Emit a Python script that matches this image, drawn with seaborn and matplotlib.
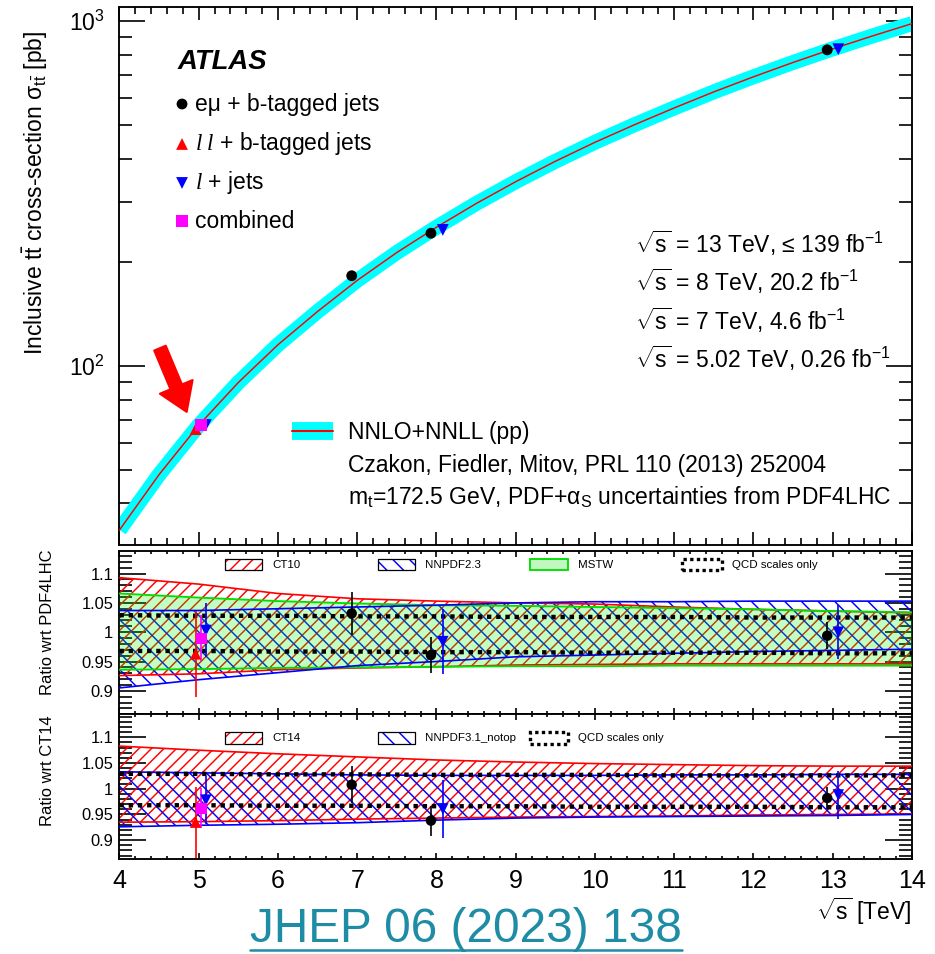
import numpy as np
import pandas as pd
import matplotlib
matplotlib.use("Agg")
import matplotlib.pyplot as plt
import seaborn as sns
from matplotlib.patches import Rectangle
from matplotlib.lines import Line2D
from matplotlib.ticker import MultipleLocator, FixedLocator, NullFormatter, FuncFormatter

# ---------------- data ----------------
theory_sqrt_s = [4.0, 4.5, 5.0, 5.5, 6.0, 6.5, 7.0, 7.5, 8.0, 8.5, 9.0, 9.5, 10.0,
                 10.5, 11.0, 11.5, 12.0, 12.5, 13.0, 13.5, 14.0]
theory_xsec = [33.5, 48.5, 67.4, 89.7, 115.4, 144.1, 177.3, 213.6, 252.9, 296.1, 342.7,
               392.7, 445.8, 501.4, 560.7, 624.3, 690.3, 759.8, 831.8, 906.5, 984.5]

emu_sqrt_s = [6.93, 7.93, 12.93]
emu_xsec = [182.9, 242.9, 826.4]
ll_sqrt_s = [4.96]
ll_xsec = [65.7]
ljets_sqrt_s = [5.09, 8.08, 13.07]
ljets_xsec = [67.5, 248.3, 830.0]
comb_sqrt_s = [5.03]
comb_xsec = [67.5]

# ratio wrt PDF4LHC
emu_r1 = [1.032, 0.961, 0.994]
emu_r1_err = [0.037, 0.031, 0.023]
ll_r1 = [0.963]
ll_r1_err = [0.073]
ljets_r1 = [1.003, 0.984, 1.000]
ljets_r1_err = [0.046, 0.055, 0.046]
comb_r1 = [0.990]
comb_r1_err = [0.039]

# ratio wrt CT14
emu_r2 = [1.008, 0.938, 0.982]
emu_r2_err = [0.036, 0.029, 0.021]
ll_r2 = [0.935]
ll_r2_err = [0.069]
ljets_r2 = [0.978, 0.961, 0.988]
ljets_r2_err = [0.046, 0.056, 0.046]
comb_r2 = [0.962]
comb_r2_err = [0.039]

band_sqrt_s = [4, 5, 6, 7, 8, 9, 10, 11, 12, 13, 14]
ct10_up = [1.093, 1.082, 1.066, 1.057, 1.053, 1.050, 1.048, 1.043, 1.039, 1.036, 1.033]
ct10_dn = [0.926, 0.929, 0.936, 0.939, 0.941, 0.944, 0.945, 0.946, 0.946, 0.946, 0.946]
mstw_up = [1.066, 1.059, 1.053, 1.049, 1.046, 1.045, 1.043, 1.041, 1.039, 1.036, 1.034]
mstw_dn = [0.936, 0.937, 0.939, 0.940, 0.941, 0.942, 0.942, 0.943, 0.943, 0.943, 0.943]
nnpdf23_up = [1.037, 1.037, 1.040, 1.043, 1.046, 1.050, 1.052, 1.052, 1.053, 1.053, 1.053]
nnpdf23_dn = [0.905, 0.919, 0.931, 0.943, 0.950, 0.958, 0.961, 0.964, 0.967, 0.969, 0.971]
qcd1_up = [1.029, 1.028, 1.028, 1.027, 1.027, 1.026, 1.026, 1.026, 1.025, 1.025, 1.025]
qcd1_dn = [0.968, 0.968, 0.967, 0.967, 0.966, 0.966, 0.965, 0.965, 0.965, 0.964, 0.964]

ct14_up = [1.083, 1.075, 1.068, 1.062, 1.056, 1.052, 1.049, 1.047, 1.045, 1.044, 1.044]
ct14_dn = [0.935, 0.936, 0.938, 0.941, 0.943, 0.945, 0.946, 0.947, 0.949, 0.950, 0.951]
nnpdf31_up = [1.033, 1.031, 1.029, 1.027, 1.026, 1.026, 1.026, 1.027, 1.027, 1.028, 1.028]
nnpdf31_dn = [0.926, 0.929, 0.931, 0.934, 0.939, 0.943, 0.945, 0.946, 0.947, 0.948, 0.950]
qcd2_up = [1.029, 1.029, 1.028, 1.028, 1.027, 1.027, 1.027, 1.026, 1.026, 1.026, 1.026]
qcd2_dn = [0.968, 0.968, 0.967, 0.967, 0.966, 0.966, 0.965, 0.965, 0.965, 0.964, 0.964]

# ---------------- style ----------------
sns.set_theme(style="ticks")
plt.rcParams["font.family"] = ["Liberation Sans", "DejaVu Sans"]
plt.rcParams.update({
    "mathtext.fontset": "custom",
    "mathtext.rm": "Liberation Sans",
    "mathtext.it": "Liberation Sans:italic",
    "mathtext.bf": "Liberation Sans:bold",
    "mathtext.sf": "Liberation Serif:italic",
    "mathtext.default": "regular",
    "axes.edgecolor": "black",
    "axes.linewidth": 0.9,
    "xtick.color": "black",
    "ytick.color": "black",
    "text.color": "black",
    "hatch.linewidth": 0.7,
    "axes.facecolor": "white",
    "figure.facecolor": "white",
})

RED_HATCH = "////"
BLUE_HATCH = "\\\\\\"

W, H, DPI = 935, 954, 150
fig = plt.figure(figsize=(W / DPI, H / DPI), dpi=DPI)
L, Wd = 0.1278, 0.8476
ax_top = fig.add_axes([L, 0.42872, Wd, 0.56394])
ax_mid = fig.add_axes([L, 0.25189, Wd, 0.17086])
ax_bot = fig.add_axes([L, 0.09990, Wd, 0.15199])

RED, BLUE, MAG, CYAN = "#ff0000", "#0000ff", "#ff00ff", "#00ffff"

# ---------------- top panel ----------------
th = pd.DataFrame({"sqrt_s": theory_sqrt_s, "xsec": theory_xsec})
sns.lineplot(data=th, x="sqrt_s", y="xsec", ax=ax_top, color=CYAN, linewidth=7.2,
             solid_capstyle="butt", solid_joinstyle="round", zorder=2, legend=False)
sns.lineplot(data=th, x="sqrt_s", y="xsec", ax=ax_top, color=RED, linewidth=0.7,
             zorder=3, legend=False)
ax_top.set_yscale("log")
ax_top.set_xlim(4, 14)
ax_top.set_ylim(30.3, 1100)

sns.scatterplot(x=ll_sqrt_s, y=ll_xsec, ax=ax_top, marker="^", s=32, color=RED,
                edgecolor="none", zorder=5)
sns.scatterplot(x=ljets_sqrt_s, y=ljets_xsec, ax=ax_top, marker="v", s=32, color=BLUE,
                edgecolor="none", zorder=5)
sns.scatterplot(x=emu_sqrt_s, y=emu_xsec, ax=ax_top, marker="o", s=27, color="black",
                edgecolor="none", zorder=6)
sns.scatterplot(x=comb_sqrt_s, y=comb_xsec, ax=ax_top, marker="s", s=30, color=MAG,
                edgecolor="none", zorder=7)

ax_top.annotate("", xy=(4.848, 73.7), xytext=(4.511, 112.8),
                arrowprops=dict(arrowstyle="simple,head_length=0.65,head_width=0.85,tail_width=0.3",
                                color=RED, mutation_scale=20, shrinkA=0, shrinkB=0), zorder=8)

ax_top.yaxis.set_major_locator(FixedLocator([100, 1000]))
ax_top.yaxis.set_major_formatter(FuncFormatter(lambda v, p: r"$10^{%d}$" % round(np.log10(v))))
ax_top.yaxis.set_minor_locator(FixedLocator([40, 50, 60, 70, 80, 90, 200, 300, 400, 500, 600, 700, 800, 900]))
ax_top.yaxis.set_minor_formatter(NullFormatter())
ax_top.tick_params(axis="y", which="major", direction="in", length=12.5, width=0.8,
                   left=True, right=True, labelsize=11, pad=7)
ax_top.tick_params(axis="y", which="minor", direction="in", length=6.2, width=0.8,
                   left=True, right=True)

for a in (ax_top, ax_mid, ax_bot):
    a.set_xlim(4, 14)
    a.xaxis.set_major_locator(MultipleLocator(1))
    a.xaxis.set_minor_locator(MultipleLocator(0.2))
    a.set_xlabel("")
    a.set_ylabel("")
    for s in a.spines.values():
        s.set_linewidth(0.9)
        s.set_color("black")

ax_top.tick_params(axis="x", which="major", direction="in", length=6.2, width=0.8,
                   top=True, bottom=True, labelbottom=False)
ax_top.tick_params(axis="x", which="minor", direction="in", length=3.4, width=0.8,
                   top=True, bottom=True)

# top legend
tA = ax_top.transAxes
ax_top.text(0.0738, 0.8978, "ATLAS", transform=tA, fontsize=13.2, fontweight="bold",
            fontstyle="italic", va="center", ha="left")
leg_rows = [(0.8197, "o", "black", 27, "e\u03bc + b-tagged jets"),
            (0.7454, "^", RED, 32, r"$\mathsf{l\;l}$ + b-tagged jets"),
            (0.6729, "v", BLUE, 32, r"$\mathsf{l}$ + jets"),
            (0.6022, "s", MAG, 30, "combined")]
for yy, mk, col, sz, lab in leg_rows:
    ax_top.scatter([0.0789], [yy], transform=tA, marker=mk, s=sz, color=col,
                   edgecolor="none", clip_on=False, zorder=9)
    ax_top.text(0.0953, yy, lab, transform=tA, fontsize=11, va="center", ha="left")

right_lines = [(0.5613, "$\\sqrt{\\mathrm{s}}$ = 13 TeV, \u2264 139 fb$^{-1}$"),
               (0.4907, r"$\sqrt{\mathrm{s}}$ = 8 TeV, 20.2 fb$^{-1}$"),
               (0.4182, r"$\sqrt{\mathrm{s}}$ = 7 TeV, 4.6 fb$^{-1}$"),
               (0.3476, r"$\sqrt{\mathrm{s}}$ = 5.02 TeV, 0.26 fb$^{-1}$")]
for yy, lab in right_lines:
    ax_top.text(0.6505, yy, lab, transform=tA, fontsize=11, va="center", ha="left")

ax_top.add_line(Line2D([0.2177, 0.2694], [0.2119, 0.2119], transform=tA, color=CYAN,
                       linewidth=8.6, solid_capstyle="butt", zorder=9))
ax_top.add_line(Line2D([0.2177, 0.2694], [0.2119, 0.2119], transform=tA, color=RED,
                       linewidth=1.0, zorder=10))
ax_top.text(0.2883, 0.2100, "NNLO+NNLL (pp)", transform=tA, fontsize=11, va="center")
ax_top.text(0.2883, 0.1487, "Czakon, Fiedler, Mitov, PRL 110 (2013) 252004", transform=tA,
            fontsize=11, va="center")
ax_top.text(0.2883, 0.0892, r"m$_{\mathrm{t}}$=172.5 GeV, PDF+$\alpha_{\mathrm{S}}$ uncertainties from PDF4LHC",
            transform=tA, fontsize=11, va="center")

# ---------------- ratio panels ----------------
def draw_points(ax, r_emu, e_emu, r_ll, e_ll, r_lj, e_lj, r_cb, e_cb):
    ax.errorbar(ll_sqrt_s, r_ll, yerr=e_ll, fmt="none", ecolor=RED, elinewidth=0.8, zorder=6)
    ax.errorbar(comb_sqrt_s, r_cb, yerr=e_cb, fmt="none", ecolor=MAG, elinewidth=0.8, zorder=6)
    ax.errorbar(ljets_sqrt_s, r_lj, yerr=e_lj, fmt="none", ecolor=BLUE, elinewidth=0.8, zorder=6)
    ax.errorbar(emu_sqrt_s, r_emu, yerr=e_emu, fmt="none", ecolor="black", elinewidth=0.8, zorder=6)
    sns.scatterplot(x=ll_sqrt_s, y=r_ll, ax=ax, marker="^", s=30, color=RED, edgecolor="none", zorder=7)
    sns.scatterplot(x=ljets_sqrt_s, y=r_lj, ax=ax, marker="v", s=30, color=BLUE, edgecolor="none", zorder=7)
    sns.scatterplot(x=emu_sqrt_s, y=r_emu, ax=ax, marker="o", s=25, color="black", edgecolor="none", zorder=7)
    sns.scatterplot(x=comb_sqrt_s, y=r_cb, ax=ax, marker="s", s=28, color=MAG, edgecolor="none", zorder=8)


def hatch_band(ax, lo, hi, col, hatch):
    ax.fill_between(band_sqrt_s, lo, hi, facecolor="none", edgecolor=col, hatch=hatch,
                    linewidth=0, zorder=2)
    sns.lineplot(x=band_sqrt_s, y=hi, ax=ax, color=col, linewidth=0.8, zorder=4)
    sns.lineplot(x=band_sqrt_s, y=lo, ax=ax, color=col, linewidth=0.8, zorder=4)


def qcd_lines(ax, lo, hi):
    for arr in (lo, hi):
        sns.lineplot(x=band_sqrt_s, y=arr, ax=ax, color="black", linewidth=2.1,
                     linestyle=(0, (1, 1.1)), zorder=5, dashes=False)


# middle
hatch_band(ax_mid, ct10_dn, ct10_up, RED, RED_HATCH)
ax_mid.fill_between(band_sqrt_s, mstw_dn, mstw_up, facecolor=(0, 1, 0, 0.24),
                    edgecolor="none", zorder=3)
sns.lineplot(x=band_sqrt_s, y=mstw_up, ax=ax_mid, color="#00e000", linewidth=0.9, zorder=4)
sns.lineplot(x=band_sqrt_s, y=mstw_dn, ax=ax_mid, color="#00e000", linewidth=0.9, zorder=4)
hatch_band(ax_mid, nnpdf23_dn, nnpdf23_up, BLUE, BLUE_HATCH)
qcd_lines(ax_mid, qcd1_dn, qcd1_up)
draw_points(ax_mid, emu_r1, emu_r1_err, ll_r1, ll_r1_err, ljets_r1, ljets_r1_err, comb_r1, comb_r1_err)
ax_mid.set_ylim(0.861, 1.139)

# bottom
hatch_band(ax_bot, ct14_dn, ct14_up, RED, RED_HATCH)
hatch_band(ax_bot, nnpdf31_dn, nnpdf31_up, BLUE, BLUE_HATCH)
qcd_lines(ax_bot, qcd2_dn, qcd2_up)
draw_points(ax_bot, emu_r2, emu_r2_err, ll_r2, ll_r2_err, ljets_r2, ljets_r2_err, comb_r2, comb_r2_err)
ax_bot.set_ylim(0.864, 1.146)

for a in (ax_mid, ax_bot):
    a.set_xlim(4, 14)
    a.set_xlabel("")
    a.set_ylabel("")
    a.yaxis.set_major_locator(MultipleLocator(0.05))
    a.yaxis.set_minor_locator(MultipleLocator(0.01))
    a.yaxis.set_major_formatter(FuncFormatter(lambda v, p: f"{round(v, 3):g}"))
    a.tick_params(axis="y", which="major", direction="in", length=13, width=0.8,
                  left=True, right=True, labelsize=7.9, pad=3)
    a.tick_params(axis="y", which="minor", direction="in", length=6.2, width=0.8,
                  left=True, right=True)
    a.tick_params(axis="x", which="major", direction="in", length=2.8, width=0.8,
                  top=True, bottom=True)
    a.tick_params(axis="x", which="minor", direction="in", length=1.5, width=0.8,
                  top=True, bottom=True)
ax_mid.tick_params(axis="x", labelbottom=False)
ax_bot.tick_params(axis="x", which="major", labelsize=12, pad=5)

# ratio legends
def leg_entry(ax, x0, x1, yc, h, kind, col, label, fs=5.5):
    t = ax.transAxes
    if kind == "hatch":
        ax.add_patch(Rectangle((x0, yc - h / 2), x1 - x0, h, transform=t, facecolor="white",
                               edgecolor=col[0], hatch=col[1], linewidth=0, zorder=9))
        ax.add_patch(Rectangle((x0, yc - h / 2), x1 - x0, h, transform=t, facecolor="none",
                               edgecolor="black", linewidth=0.6, zorder=10))
    elif kind == "fill":
        ax.add_patch(Rectangle((x0, yc - h / 2), x1 - x0, h, transform=t, facecolor="#c2f7c2",
                               edgecolor="#00e000", linewidth=0.9, zorder=9))
    else:
        ax.add_patch(Rectangle((x0, yc - h / 2), x1 - x0, h, transform=t, facecolor="white",
                               edgecolor="black", linewidth=1.6, linestyle=(0, (1, 1)), zorder=9))
    ax.text(x1 + 0.0126, yc, label, transform=t, fontsize=fs, va="center", ha="left", zorder=10)

leg_entry(ax_mid, 0.1331, 0.1798, 0.914, 0.0675, "hatch", (RED, RED_HATCH), "CT10")
leg_entry(ax_mid, 0.3262, 0.3729, 0.914, 0.0675, "hatch", (BLUE, BLUE_HATCH), "NNPDF2.3")
leg_entry(ax_mid, 0.5180, 0.5660, 0.914, 0.0675, "fill", None, "MSTW")
leg_entry(ax_mid, 0.7098, 0.7603, 0.914, 0.0675, "qcd", None, "QCD scales only")

leg_entry(ax_bot, 0.1331, 0.1798, 0.8324, 0.0759, "hatch", (RED, RED_HATCH), "CT14")
leg_entry(ax_bot, 0.3262, 0.3729, 0.8324, 0.0759, "hatch", (BLUE, BLUE_HATCH), "NNPDF3.1_notop")
leg_entry(ax_bot, 0.5180, 0.5660, 0.8324, 0.0759, "qcd", None, "QCD scales only")

# ---------------- figure-level labels ----------------
fig.text(0.0374, 0.7977, r"Inclusive $\mathrm{t\bar{t}}$ cross-section $\sigma_{\mathrm{t\bar{t}}}$ [pb]",
         rotation=90, ha="center", va="center", fontsize=11)
fig.text(0.0513, 0.348, "Ratio wrt PDF4LHC", rotation=90, ha="center", va="center", fontsize=7.9)
fig.text(0.0513, 0.1918, "Ratio wrt CT14", rotation=90, ha="center", va="center", fontsize=7.9)
fig.text(0.9754, 1 - 911 / 954, r"$\sqrt{\mathrm{s}}$ [TeV]", ha="right", va="center", fontsize=11)

TEAL = "#1e8ca5"
fig.text(466 / 935, 1 - 929 / 954, "JHEP 06 (2023) 138", ha="center", va="center",
         fontsize=22.9, color=TEAL)
fig.add_artist(Line2D([250 / 935, 682 / 935], [1 - 950 / 954, 1 - 950 / 954],
                      transform=fig.transFigure, color=TEAL, linewidth=1.2))

fig.savefig("out.png", dpi=DPI)
